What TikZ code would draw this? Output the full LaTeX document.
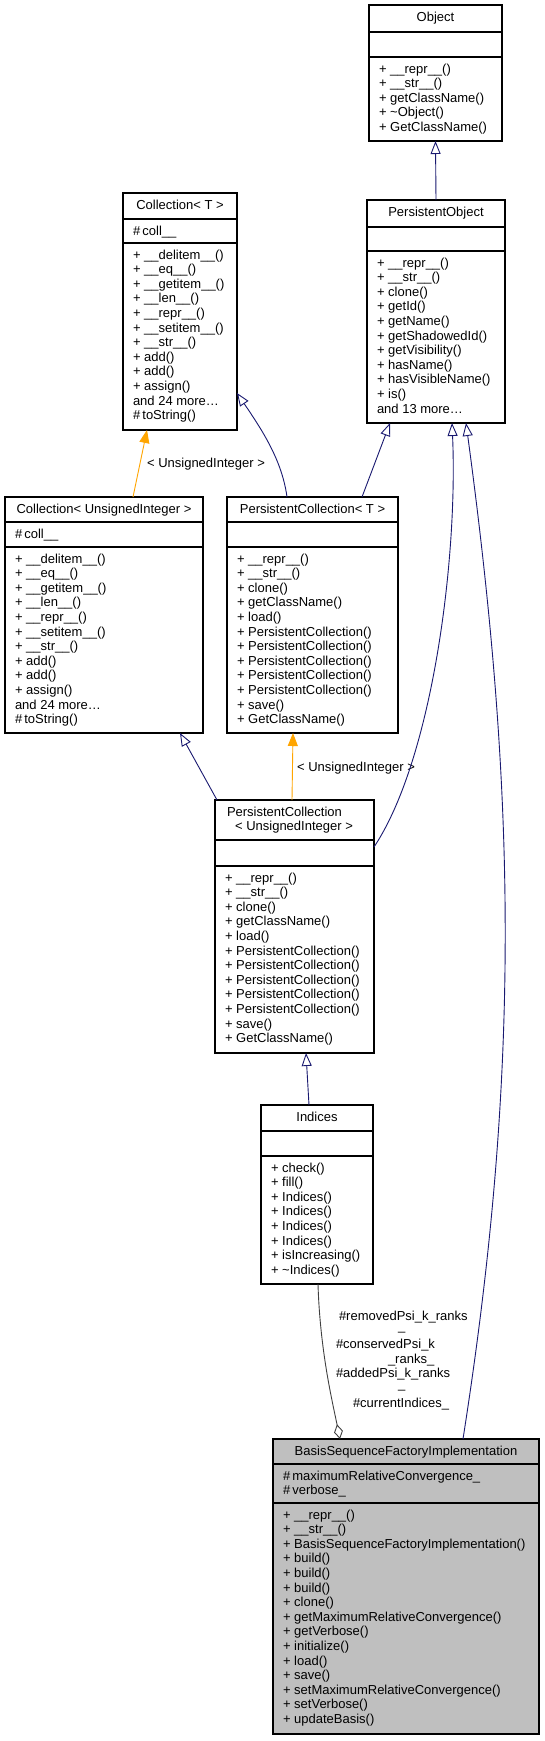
\documentclass[tikz,border=0pt]{standalone}
\usepackage{fontspec}
\setmainfont{Liberation Sans}
\usetikzlibrary{arrows.meta}
\definecolor{navy}{HTML}{191970}
\definecolor{dxorange}{HTML}{FFA500}
\definecolor{aggr}{HTML}{404040}
\definecolor{hl}{HTML}{BFBFBF}
\tikzset{
  cls/.style={draw=black, line width=1.1pt, anchor=north west, inner sep=0pt, outer sep=0pt},
  txt/.style={font=\fontsize{13}{14.6}\selectfont, inner sep=0pt, outer sep=0pt},
  inh/.style={draw=navy, line width=0.9pt, -{Triangle[open, length=13pt, width=10pt, line width=0.9pt]}},
  tmpl/.style={draw=dxorange, line width=0.9pt, -{Triangle[length=13pt, width=10pt, fill=dxorange]}},
  agg/.style={draw=aggr, line width=0.9pt, -{Diamond[open, length=15pt, width=9pt, line width=0.9pt]}},
}
% #1 extra style, #2 name, #3 L, #4 T, #5 R, #6 S1, #7 S2, #8 B
\newcommand\umlbox[8][]{%
  \node[cls,#1, minimum width=#5pt-#3pt, minimum height=#8pt-#4pt] (#2) at (#3,#4) {};
  \draw[line width=1.1pt] (#3,#6) -- (#5,#6) (#3,#7) -- (#5,#7);
}
% #1 prefix, #2 x, #3 first baseline, #4 list
\newcommand\umllines[4]{%
  \foreach \t [count=\i] in {#4} {\node[txt, anchor=base west] (#1-\i) at (#2,{#3+(\i-1)*14.6}) {\t};}
}
\begin{document}
\begin{tikzpicture}[x=1pt,y=-1pt]
\useasboundingbox (0,0) rectangle (545,1741);
\fill[white] (0,0) rectangle (545,1741);

% Object
\umlbox{obj}{369}{5}{502}{32}{57}{141}
\node[txt, anchor=base] (obj-t) at (435.5,21) {Object};
\umllines{objm}{379}{73}{+ \_\_repr\_\_(), + \_\_str\_\_(), + getClassName(), + \textasciitilde Object(), + GetClassName()}

% PersistentObject
\umlbox{po}{367}{200}{505}{227}{251}{423}
\node[txt, anchor=base] (po-t) at (436,216) {PersistentObject};
\umllines{pom}{377}{267}{+ \_\_repr\_\_(), + \_\_str\_\_(), + clone(), + getId(), + getName(), + getShadowedId(), + getVisibility(), + hasName(), + hasVisibleName(), + is(), and 13 more\ldots}

% Collection< T >
\umlbox{ct}{123}{193}{237}{219}{243}{430}
\node[txt, anchor=base] (ct-t) at (180,209) {Collection< T >};
\umllines{cta}{133}{235}{\#\,coll\_\_}
\umllines{ctm}{133}{259}{+ \_\_delitem\_\_(), + \_\_eq\_\_(), + \_\_getitem\_\_(), + \_\_len\_\_(), + \_\_repr\_\_(), + \_\_setitem\_\_(), + \_\_str\_\_(), + add(), + add(), + assign(), and 24 more\ldots, \#\,toString()}

% Collection< UnsignedInteger >
\umlbox{cui}{5}{497}{203}{522}{547}{733}
\node[txt, anchor=base] (cui-t) at (104,513) {Collection< UnsignedInteger >};
\umllines{cuia}{15}{538}{\#\,coll\_\_}
\umllines{cuim}{15}{563}{+ \_\_delitem\_\_(), + \_\_eq\_\_(), + \_\_getitem\_\_(), + \_\_len\_\_(), + \_\_repr\_\_(), + \_\_setitem\_\_(), + \_\_str\_\_(), + add(), + add(), + assign(), and 24 more\ldots, \#\,toString()}

% PersistentCollection< T >
\umlbox{pct}{227}{497}{398}{522}{547}{733}
\node[txt, anchor=base] (pct-t) at (312.5,513) {PersistentCollection< T >};
\umllines{pctm}{237}{563}{+ \_\_repr\_\_(), + \_\_str\_\_(), + clone(), + getClassName(), + load(), + PersistentCollection(), + PersistentCollection(), + PersistentCollection(), + PersistentCollection(), + PersistentCollection(), + save(), + GetClassName()}

% PersistentCollection< UnsignedInteger >
\umlbox{pcu}{215}{800}{374}{840}{866}{1053}
\node[txt, anchor=base west] (pcu-t1) at (227,816) {PersistentCollection};
\node[txt, anchor=base] (pcu-t2) at (294,830.6) {< UnsignedInteger >};
\umllines{pcum}{225}{882}{+ \_\_repr\_\_(), + \_\_str\_\_(), + clone(), + getClassName(), + load(), + PersistentCollection(), + PersistentCollection(), + PersistentCollection(), + PersistentCollection(), + PersistentCollection(), + save(), + GetClassName()}

% Indices
\umlbox{ind}{261}{1105}{373}{1131}{1156}{1284}
\node[txt, anchor=base] (ind-t) at (317,1121) {Indices};
\umllines{indm}{271}{1172}{+ check(), + fill(), + Indices(), + Indices(), + Indices(), + Indices(), + isIncreasing(), + \textasciitilde Indices()}

% BasisSequenceFactoryImplementation
\umlbox[fill=hl]{bsfi}{273}{1439}{539}{1464}{1503}{1734}
\node[txt, anchor=base] (bsfi-t) at (406,1455) {BasisSequenceFactoryImplementation};
\umllines{bsfia}{283}{1480}{\#\,maximumRelativeConvergence\_, \#\,verbose\_}
\umllines{bsfim}{283}{1519}{+ \_\_repr\_\_(), + \_\_str\_\_(), + BasisSequenceFactoryImplementation(), + build(), + build(), + build(), + clone(), + getMaximumRelativeConvergence(), + getVerbose(), + initialize(), + load(), + save(), + setMaximumRelativeConvergence(), + setVerbose(), + updateBasis()}

% connectors
\draw[inh] (po.north) -- (obj.south);
\draw[tmpl] (133,0 |- cui.north) -- (147,0 |- ct.south);
\node[txt, anchor=base] (lbl1) at (206,467) {< UnsignedInteger >};
\draw[inh] (287,0 |- pct.north) .. controls (282,460) and (262,430) .. (ct.east |- 0,393);
\draw[inh] (362,0 |- pct.north) -- (390,0 |- po.south);
\draw[inh] (217,0 |- pcu.north) -- (180,0 |- cui.south);
\draw[tmpl] (292,0 |- pcu.north) -- (293,0 |- pct.south);
\node[txt, anchor=base] (lbl2) at (356,771) {< UnsignedInteger >};
\draw[inh] (pcu.east |- 0,847) .. controls (432,760) and (458,560) .. (452,0 |- po.south);
\draw[inh] (309,0 |- ind.north) -- (306,0 |- pcu.south);
\draw[inh] (463,0 |- bsfi.north) .. controls (521,1069) and (516,793) .. (466,0 |- po.south);
\draw[agg] (318,0 |- ind.south) .. controls (320,1350) and (332,1400) .. (340,0 |- bsfi.north);

% aggregation labels
\node[txt, anchor=base west] (al1) at (339,1320) {\#removedPsi\_k\_ranks};
\node[txt, anchor=base west] (al2) at (398,1330) {\_};
\node[txt, anchor=base west] (al3) at (336,1348.5) {\#conservedPsi\_k};
\node[txt, anchor=base west] (al4) at (388,1363.5) {\_ranks\_};
\node[txt, anchor=base west] (al5) at (336,1377.5) {\#addedPsi\_k\_ranks};
\node[txt, anchor=base west] (al6) at (398,1388.5) {\_};
\node[txt, anchor=base west] (al7) at (353,1407.5) {\#currentIndices\_};
\end{tikzpicture}
\end{document}
